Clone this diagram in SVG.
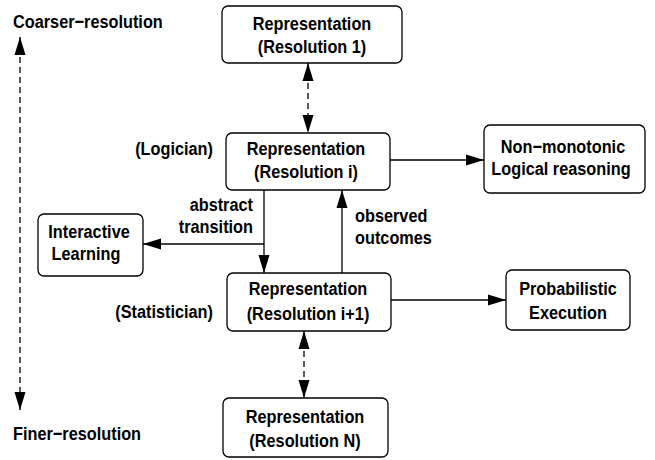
<svg xmlns="http://www.w3.org/2000/svg" width="655" height="460" viewBox="0 0 655 460">
<style>
text{font-family:"Liberation Sans",Arial,sans-serif;font-weight:bold;font-size:16.3px;fill:#000}
.c{text-anchor:middle}
.r{text-anchor:end}
.box{fill:#fff;stroke:#000;stroke-width:1.3}
.ln{fill:none;stroke:#000;stroke-width:1.3}
.d{stroke-dasharray:6 4}
</style>
<defs>
<marker id="ah" markerUnits="userSpaceOnUse" markerWidth="18" markerHeight="12" viewBox="0 0 18 12" refX="18" refY="6" orient="auto-start-reverse">
<path d="M0,0.5 L18,6 L0,11.5 Z" fill="#000"/>
</marker>
</defs>
<g id="connectors">
<line class="ln d" x1="20" y1="37" x2="20" y2="410" marker-start="url(#ah)" marker-end="url(#ah)"/>
<line class="ln d" x1="308" y1="63" x2="308" y2="133" marker-start="url(#ah)" marker-end="url(#ah)"/>
<line class="ln" x1="390" y1="160" x2="484" y2="160" marker-end="url(#ah)"/>
<line class="ln" x1="264" y1="190" x2="264" y2="273" marker-end="url(#ah)"/>
<line class="ln" x1="264" y1="244" x2="143" y2="244" marker-end="url(#ah)"/>
<line class="ln" x1="342" y1="273" x2="342" y2="190" marker-end="url(#ah)"/>
<line class="ln" x1="391" y1="300" x2="506" y2="300" marker-end="url(#ah)"/>
<line class="ln d" x1="304" y1="331" x2="304" y2="398" marker-start="url(#ah)" marker-end="url(#ah)"/>
</g>
<g id="labels">
<text transform="translate(13,28) scale(1,1.18)">Coarser−resolution</text>
<text transform="translate(13,440) scale(1,1.18)">Finer−resolution</text>
<text class="r" transform="translate(213,155) scale(1,1.18)">(Logician)</text>
<text class="r" transform="translate(213,318) scale(1,1.18)">(Statistician)</text>
<text class="r" transform="translate(253,211) scale(1,1.18)">abstract</text>
<text class="r" transform="translate(253,233) scale(1,1.18)">transition</text>
<text transform="translate(355,222) scale(1,1.18)">observed</text>
<text transform="translate(355,244) scale(1,1.18)">outcomes</text>
</g>
<g id="res1">
<rect class="box" x="222" y="6" width="180" height="57" rx="6"/>
<text class="c" transform="translate(312,30) scale(1,1.18)">Representation</text>
<text class="c" transform="translate(312,53) scale(1,1.18)">(Resolution 1)</text>
</g>
<g id="resi">
<rect class="box" x="226" y="133" width="164" height="57" rx="6"/>
<text class="c" transform="translate(306,155) scale(1,1.18)">Representation</text>
<text class="c" transform="translate(306,178) scale(1,1.18)">(Resolution i)</text>
</g>
<g id="nonmono">
<rect class="box" x="484" y="125" width="161" height="68" rx="6"/>
<text class="c" transform="translate(563,153) scale(1,1.18)">Non−monotonic</text>
<text class="c" transform="translate(561,175) scale(1,1.18)">Logical reasoning</text>
</g>
<g id="interactive">
<rect class="box" x="38" y="214" width="105" height="62" rx="6"/>
<text class="c" transform="translate(89,238) scale(1,1.18)">Interactive</text>
<text class="c" transform="translate(86,260) scale(1,1.18)">Learning</text>
</g>
<g id="resi1">
<rect class="box" x="227" y="273" width="164" height="58" rx="6"/>
<text class="c" transform="translate(308,295) scale(1,1.18)">Representation</text>
<text class="c" transform="translate(308,320) scale(1,1.18)">(Resolution i+1)</text>
</g>
<g id="prob">
<rect class="box" x="506" y="270" width="124" height="60" rx="6"/>
<text class="c" transform="translate(568,295) scale(1,1.18)">Probabilistic</text>
<text class="c" transform="translate(568,319) scale(1,1.18)">Execution</text>
</g>
<g id="resN">
<rect class="box" x="223" y="398" width="165" height="59" rx="6"/>
<text class="c" transform="translate(305,423) scale(1,1.18)">Representation</text>
<text class="c" transform="translate(305,447) scale(1,1.18)">(Resolution N)</text>
</g>
</svg>
